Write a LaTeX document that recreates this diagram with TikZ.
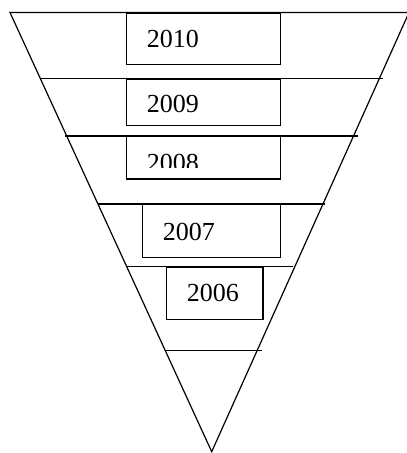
\documentclass[tikz,border=0pt]{standalone}
\usepackage{fontspec}
\setmainfont{Liberation Serif}
\begin{document}
\begin{tikzpicture}[x=1pt,y=-1pt,
  edge/.style={line width=1.2pt, line join=miter},
  box/.style={draw, line width=1.2pt, rectangle, inner sep=0pt, anchor=north west},
  yr/.style={font=\fontsize{26}{28}\selectfont, inner sep=0pt, anchor=base west}]
\useasboundingbox (0,0) rectangle (407,453);
% funnel outline
\coordinate (tl) at (10,12.5);
\coordinate (tr) at (409,12.5);
\coordinate (ap) at (211.7,451.7);
\draw[edge] (tl) -- (tr) -- (ap) -- cycle;
% horizontal bands
\coordinate (l2a) at (40,78.3);   \coordinate (l2b) at (383,78.3);
\coordinate (l3a) at (65,136);    \coordinate (l3b) at (358,136);
\coordinate (l4a) at (98,204);    \coordinate (l4b) at (325,204);
\coordinate (l5a) at (127,266.7); \coordinate (l5b) at (293,266.7);
\coordinate (l6a) at (165.3,350.3); \coordinate (l6b) at (262.3,350.3);
\draw[edge] (l2a) -- (l2b);
\draw[edge] (l3a) -- (l3b);
\draw[edge] (l4a) -- (l4b);
\draw[edge] (l5a) -- (l5b);
\draw[edge] (l6a) -- (l6b);
% boxes
\node[box, minimum width=154.3pt, minimum height=51.5pt] (b2010) at (125.7,12.5) {};
\node[yr] (t2010) at (146.7,47) {2010};
\node[box, minimum width=154.3pt, minimum height=46pt] (b2009) at (125.7,79) {};
\node[yr] (t2009) at (146.7,112.5) {2009};
\node[box, minimum width=154.3pt, minimum height=42.3pt] (b2008) at (125.7,136) {};
\begin{scope}
  \clip (125.7,140) rectangle (280,167.3);
  \node[yr] (t2008) at (146.7,171) {2008};
\end{scope}
\node[box, minimum width=138.3pt, minimum height=52.7pt] (b2007) at (141.7,204) {};
\node[yr] (t2007) at (162.7,240) {2007};
\node[box, minimum width=96.6pt, minimum height=52.3pt] (b2006) at (165.7,266.7) {};
\node[yr] (t2006) at (186.7,301.7) {2006};
\end{tikzpicture}
\end{document}
